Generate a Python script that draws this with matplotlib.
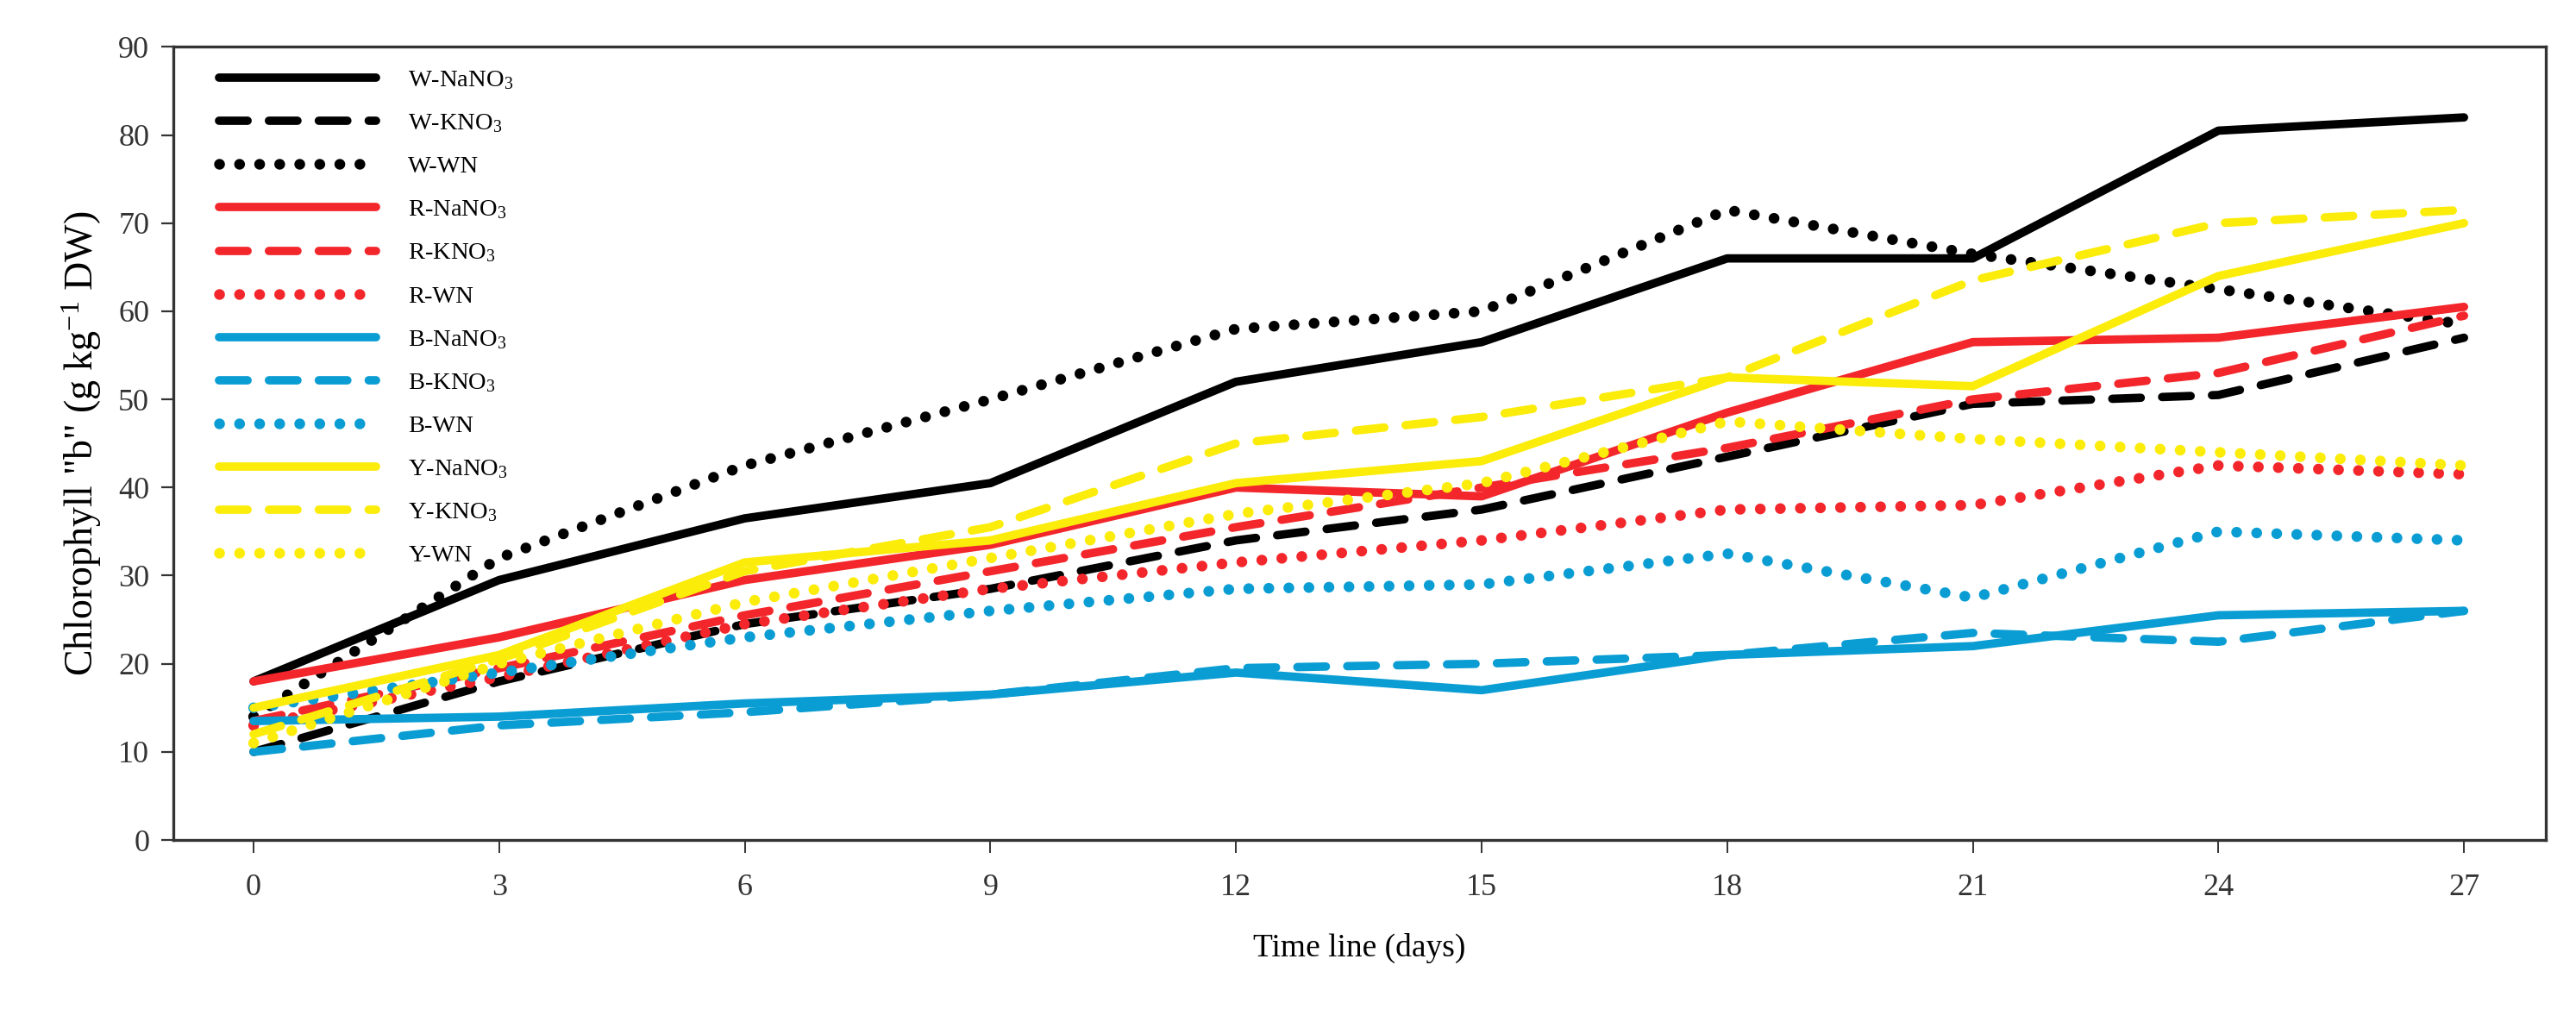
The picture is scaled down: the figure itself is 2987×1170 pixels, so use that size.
import matplotlib
matplotlib.use('Agg')
import matplotlib.pyplot as plt

# Data
days = [0, 3, 6, 9, 12, 15, 18, 21, 24, 27]

w_nano3 = [18, 29.5, 36.5, 40.5, 52, 56.5, 66, 66, 80.5, 82]
w_kno3 = [10, 18, 24.5, 28.5, 34, 37.5, 43.5, 49.5, 50.5, 57]
w_wn = [14, 32, 42.5, 50, 58, 60, 71.5, 66.5, 62.5, 58.5]
r_nano3 = [18, 23, 29.5, 33.5, 40, 39, 48.5, 56.5, 57, 60.5]
r_kno3 = [13.5, 19.5, 25.5, 30.5, 35.5, 40, 44.5, 50, 53, 59.5]
r_wn = [13, 18.5, 24.5, 28.5, 31.5, 34, 37.5, 38, 42.5, 41.5]
b_nano3 = [13.5, 14, 15.5, 16.5, 19, 17, 21, 22, 25.5, 26]
b_kno3 = [10, 13, 14.5, 16.5, 19.5, 20, 21, 23.5, 22.5, 26]
b_wn = [15, 19, 23, 26, 28.5, 29, 32.5, 27.5, 35, 34]
y_nano3 = [15, 21, 31.5, 34, 40.5, 43, 52.5, 51.5, 64, 70]
y_kno3 = [12, 20.5, 30.5, 35.5, 45, 48, 52.5, 63.5, 70, 71.5]
y_wn = [11, 20, 27, 32, 37, 40.5, 47.5, 45.5, 44, 42.5]

labels = ['W-NaNO$_3$', 'W-KNO$_3$', 'W-WN',
          'R-NaNO$_3$', 'R-KNO$_3$', 'R-WN',
          'B-NaNO$_3$', 'B-KNO$_3$', 'B-WN',
          'Y-NaNO$_3$', 'Y-KNO$_3$', 'Y-WN']
series = [w_nano3, w_kno3, w_wn, r_nano3, r_kno3, r_wn,
          b_nano3, b_kno3, b_wn, y_nano3, y_kno3, y_wn]

BLACK = '#000000'
RED = '#f3262b'
BLUE = '#0a9dd3'
YELLOW = '#fbec0a'
colors = [BLACK] * 3 + [RED] * 3 + [BLUE] * 3 + [YELLOW] * 3

# (linestyle, linewidth)
SOLID = ('-', 7)
DASHED = ((0, (3.4, 2.55)), 7)
DOTTED = ((0, (0.01, 1.85)), 9)
styles = [SOLID, DASHED, DOTTED] * 4

plt.rcParams['font.family'] = ['Liberation Serif', 'DejaVu Serif']
plt.rcParams['mathtext.fontset'] = 'custom'
plt.rcParams['mathtext.rm'] = 'Liberation Serif'
plt.rcParams['mathtext.it'] = 'Liberation Serif:italic'

fig = plt.figure(figsize=(29.87, 11.70), dpi=100)
ax = fig.add_axes([0.0673, 0.1675, 0.921, 0.786])

for vals, lab, col, (ls, lw) in zip(series, labels, colors, styles):
    ax.plot(days, vals, color=col, linestyle=ls, linewidth=lw,
            label=lab, dash_capstyle='round', solid_capstyle='round',
            solid_joinstyle='round')

ax.set_xlim(-0.98, 28.0)
ax.set_ylim(0, 90)
ax.set_xticks(days)
ax.set_yticks(range(0, 91, 10))

for sp in ax.spines.values():
    sp.set_linewidth(2.4)
    sp.set_color('#333333')

ax.tick_params(axis='y', direction='out', length=10, width=1.6,
               labelsize=26, pad=10, colors='#333333')
ax.tick_params(axis='x', direction='out', length=11, width=1.4,
               labelsize=26, pad=17, colors='#333333')

ax.set_ylabel('Chlorophyll "b" (g kg$^{-1}$ DW)', fontsize=33, labelpad=12)
ax.set_xlabel('Time line (days)', fontsize=27, labelpad=26)

leg = ax.legend(loc='upper left', fontsize=20.5, frameon=False,
                handlelength=6.4, handletextpad=1.3, labelspacing=0.85,
                borderaxespad=0.5, bbox_to_anchor=(0.01, 1.0))

fig.savefig('out.png', dpi=100, facecolor='white')
